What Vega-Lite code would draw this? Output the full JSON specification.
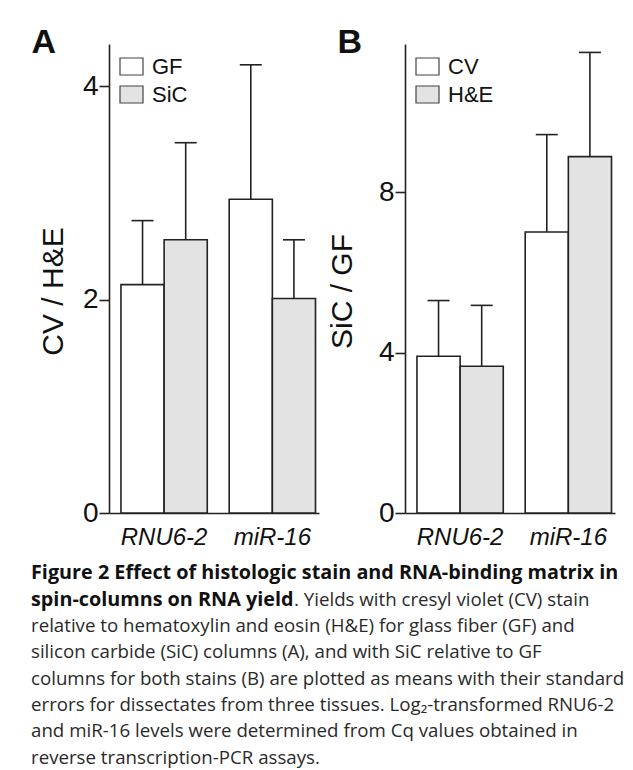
{
  "$schema": "https://vega.github.io/schema/vega-lite/v6.json",
  "background": "white",
  "padding": {"left": 31, "top": 26, "right": 0, "bottom": 0},
  "config": {
    "view": {"stroke": null},
    "font": "Liberation Sans",
    "axis": {"domainColor": "#222", "domainWidth": 1.6, "tickColor": "#222", "tickWidth": 1.6, "labelColor": "#111", "titleColor": "#111", "grid": false, "labelFont": "Liberation Sans", "titleFont": "Liberation Sans", "titleFontWeight": "normal"},
    "axisY": {"tickSize": 10, "labelPadding": 1, "labelFontSize": 28, "titleFontSize": 30, "titlePadding": 14, "titleY": 247, "format": "d"},
    "axisX": {"ticks": false, "tickSize": 0, "labelFontSize": 24, "labelFontStyle": "italic", "labelPadding": 12, "labelAngle": 0, "title": null},
    "legend": {"orient": "top-left", "offset": 10, "padding": 0, "title": null, "symbolType": "M-1,-0.74H1V0.74H-1Z", "symbolSize": 529, "symbolStrokeColor": "#444", "symbolStrokeWidth": 1.2, "labelFontSize": 22, "labelFont": "Liberation Sans", "labelColor": "#111", "labelOffset": 8, "rowPadding": 4},
    "title": {"font": "Liberation Sans", "fontWeight": "bold", "fontSize": 34, "anchor": "start", "color": "#111", "offset": -16}
  },
  "datasets": {
    "a": [
      {"gene": "RNU6-2", "matrix": "GF", "mean": 2.14, "upper": 2.74},
      {"gene": "RNU6-2", "matrix": "SiC", "mean": 2.56, "upper": 3.47},
      {"gene": "miR-16", "matrix": "GF", "mean": 2.94, "upper": 4.2},
      {"gene": "miR-16", "matrix": "SiC", "mean": 2.01, "upper": 2.56}
    ],
    "b": [
      {"gene": "RNU6-2", "stain": "CV", "mean": 3.91, "upper": 5.3},
      {"gene": "RNU6-2", "stain": "H&E", "mean": 3.66, "upper": 5.18},
      {"gene": "miR-16", "stain": "CV", "mean": 7.01, "upper": 9.44},
      {"gene": "miR-16", "stain": "H&E", "mean": 8.89, "upper": 11.49}
    ],
    "cap": [
      {"line": 1, "part": "bold", "text": "Figure 2 Effect of histologic stain and RNA-binding matrix in"},
      {"line": 2, "part": "bold", "text": "spin-columns on RNA yield"},
      {"line": 2, "part": "after", "text": ". Yields with cresyl violet (CV) stain"},
      {"line": 3, "part": "plain", "text": "relative to hematoxylin and eosin (H&E) for glass fiber (GF) and"},
      {"line": 4, "part": "plain", "text": "silicon carbide (SiC) columns (A), and with SiC relative to GF"},
      {"line": 5, "part": "plain", "text": "columns for both stains (B) are plotted as means with their standard"},
      {"line": 6, "part": "plain", "text": "errors for dissectates from three tissues. Log₂-transformed RNU6-2"},
      {"line": 7, "part": "plain", "text": "and miR-16 levels were determined from Cq values obtained in"},
      {"line": 8, "part": "plain", "text": "reverse transcription-PCR assays."}
    ]
  },
  "vconcat": [
    {
      "hconcat": [
        {
          "width": 210, "height": 469,
          "title": {"text": "A", "dx": -7},
          "data": {"name": "a"},
          "encoding": {
            "x": {"field": "gene", "type": "nominal", "sort": ["RNU6-2", "miR-16"], "scale": {"paddingInner": 0.2026, "paddingOuter": 0.0714, "align": 0.774}},
            "xOffset": {"field": "matrix", "type": "nominal", "sort": ["GF", "SiC"]}
          },
          "layer": [
            {
              "mark": {"type": "bar", "stroke": "#222", "strokeWidth": 1.6},
              "encoding": {
                "y": {"field": "mean", "type": "quantitative", "title": "CV / H&E", "scale": {"domain": [0, 4.395], "nice": false}, "axis": {"values": [0, 2, 4]}},
                "fill": {"field": "matrix", "type": "nominal", "sort": ["GF", "SiC"], "scale": {"range": ["#ffffff", "#e3e3e3"]}}
              }
            },
            {
              "mark": {"type": "rule", "stroke": "#222", "strokeWidth": 1.6},
              "encoding": {"y": {"field": "mean", "type": "quantitative"}, "y2": {"field": "upper"}}
            },
            {
              "mark": {"type": "tick", "orient": "horizontal", "size": 22, "thickness": 1.6, "color": "#222", "opacity": 1},
              "encoding": {"y": {"field": "upper", "type": "quantitative"}}
            }
          ]
        },
        {
          "width": 210, "height": 469,
          "title": {"text": "B", "dx": 10},
          "data": {"name": "b"},
          "encoding": {
            "x": {"field": "gene", "type": "nominal", "sort": ["RNU6-2", "miR-16"], "scale": {"paddingInner": 0.2026, "paddingOuter": 0.0714, "align": 0.774}},
            "xOffset": {"field": "stain", "type": "nominal", "sort": ["CV", "H&E"]}
          },
          "layer": [
            {
              "mark": {"type": "bar", "stroke": "#222", "strokeWidth": 1.6},
              "encoding": {
                "y": {"field": "mean", "type": "quantitative", "title": "SiC / GF", "scale": {"domain": [0, 11.7], "nice": false}, "axis": {"values": [0, 4, 8], "titlePadding": 21}},
                "fill": {"field": "stain", "type": "nominal", "sort": ["CV", "H&E"], "scale": {"range": ["#ffffff", "#e3e3e3"]}}
              }
            },
            {
              "mark": {"type": "rule", "stroke": "#222", "strokeWidth": 1.6},
              "encoding": {"y": {"field": "mean", "type": "quantitative"}, "y2": {"field": "upper"}}
            },
            {
              "mark": {"type": "tick", "orient": "horizontal", "size": 22, "thickness": 1.6, "color": "#222", "opacity": 1},
              "encoding": {"y": {"field": "upper", "type": "quantitative"}}
            }
          ]
        }
      ],
      "spacing": 8,
      "resolve": {"scale": {"fill": "independent", "y": "independent", "x": "independent", "xOffset": "independent"}, "legend": {"fill": "independent"}}
    },
    {
      "width": 590, "height": 211,
      "data": {"name": "cap"},
      "encoding": {
        "y": {"field": "line", "type": "ordinal", "axis": null, "scale": {"paddingInner": 0, "paddingOuter": 0}},
        "text": {"field": "text"}
      },
      "layer": [
        {"transform": [{"filter": "datum.part == 'bold'"}], "mark": {"type": "text", "x": 0, "dx": -78, "align": "left", "baseline": "alphabetic", "font": "Open Sans", "fontSize": 19.8, "fontWeight": "bold", "color": "#111"}},
        {"transform": [{"filter": "datum.part == 'plain'"}], "mark": {"type": "text", "x": 0, "dx": -78, "align": "left", "baseline": "alphabetic", "font": "Open Sans", "fontSize": 18.7, "color": "#2a2a2a"}},
        {"transform": [{"filter": "datum.part == 'after'"}], "mark": {"type": "text", "x": 0, "dx": 185, "align": "left", "baseline": "alphabetic", "font": "Open Sans", "fontSize": 18.7, "color": "#2a2a2a"}}
      ]
    }
  ],
  "spacing": 14
}
